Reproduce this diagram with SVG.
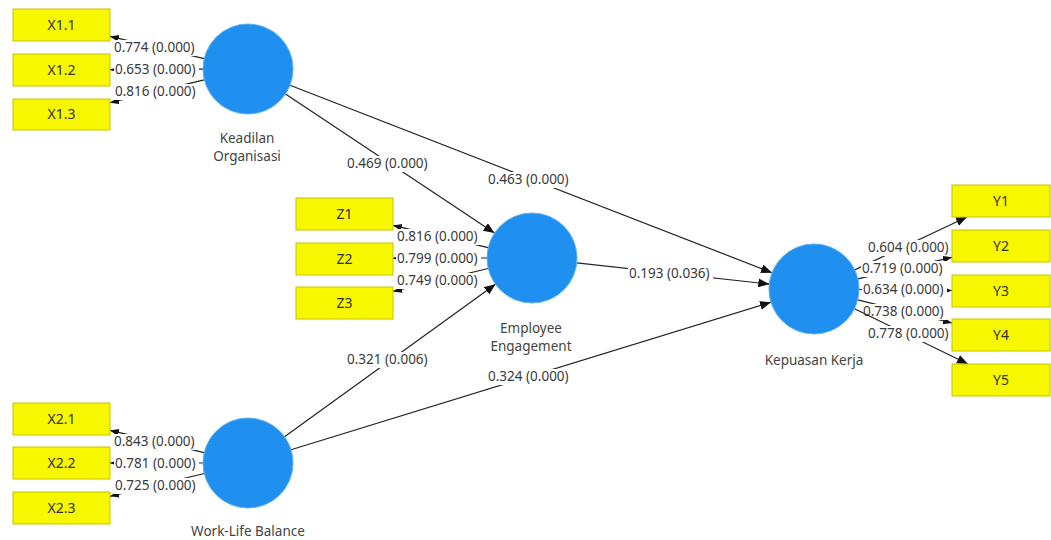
<svg xmlns="http://www.w3.org/2000/svg" width="1051" height="540" viewBox="0 0 1051 540">
<style>
.ind{fill:#f7f700;stroke:#c4c400;stroke-width:1}
.lat{fill:#1f8ff0;stroke:#5cb0f5;stroke-width:1}
.bt{font-family:"Noto Sans","Open Sans",sans-serif;font-size:14px;fill:#333;text-anchor:middle}
.nt{font-family:"Noto Sans","Open Sans",sans-serif;font-size:13.5px;fill:#444;text-anchor:middle}
.lt{font-family:"Noto Sans","Open Sans",sans-serif;font-size:13.5px;fill:#3a3a3a}
.lb{fill:#ffffff}
.c{stroke:#222;stroke-width:1.2;fill:none;marker-end:url(#ah)}
.o{stroke:#222;stroke-width:1.2;fill:none;marker-end:url(#ah2)}
</style>
<defs>
<marker id="ah" markerUnits="userSpaceOnUse" markerWidth="12" markerHeight="10" refX="11" refY="4.5" orient="auto">
<path d="M0,0 L11,4.5 L0,9 z" fill="#111"/>
</marker>
<marker id="ah2" markerUnits="userSpaceOnUse" markerWidth="10" markerHeight="8" refX="9" refY="3.5" orient="auto">
<path d="M0,0 L9,3.5 L0,7 z" fill="#111"/>
</marker>
</defs>
<rect width="1051" height="540" fill="#ffffff"/>

<g id="connectors">
<line class="c" x1="285.5" y1="94" x2="494.5" y2="233"/>
<line class="c" x1="290" y1="85.3" x2="772" y2="272.7"/>
<line class="c" x1="576.7" y1="262.9" x2="769.3" y2="284.1"/>
<line class="c" x1="284.5" y1="436.7" x2="495.5" y2="284.3"/>
<line class="c" x1="291" y1="449.8" x2="771" y2="302.2"/>
<line class="o" x1="204.2" y1="58.6" x2="110" y2="36.4"/>
<line class="o" x1="203" y1="69.2" x2="110" y2="69.7"/>
<line class="o" x1="204.2" y1="79.9" x2="110" y2="102.7"/>
<line class="o" x1="488.2" y1="247.7" x2="393" y2="225.4"/>
<line class="o" x1="487" y1="258" x2="393" y2="258.2"/>
<line class="o" x1="488.2" y1="268.5" x2="393" y2="291.4"/>
<line class="o" x1="204.2" y1="452.7" x2="110" y2="430.4"/>
<line class="o" x1="203" y1="463" x2="110" y2="463"/>
<line class="o" x1="204.2" y1="473.5" x2="110" y2="496.3"/>
<line class="c" x1="854.7" y1="269.9" x2="967" y2="217"/>
<line class="o" x1="857.8" y1="278.9" x2="952" y2="257.3"/>
<line class="o" x1="859" y1="289.5" x2="952" y2="290.5"/>
<line class="o" x1="857.7" y1="299.8" x2="952" y2="323"/>
</g>

<g id="label-0738">
<rect class="lb" x="862" y="304" width="85" height="16"/>
<text class="lt" x="863" y="316">0.738 (0.000)</text>
</g>
<g id="connector-y5">
<line class="c" x1="854.5" y1="308.7" x2="968" y2="364"/>
</g>

<g id="labels">
<rect class="lb" x="113" y="40" width="85" height="16"/><text class="lt" x="114" y="52">0.774 (0.000)</text>
<rect class="lb" x="114" y="62" width="85" height="16"/><text class="lt" x="115" y="74">0.653 (0.000)</text>
<rect class="lb" x="114" y="84" width="85" height="16"/><text class="lt" x="115" y="96">0.816 (0.000)</text>

<rect class="lb" x="396" y="229" width="85" height="16"/><text class="lt" x="397" y="241">0.816 (0.000)</text>
<rect class="lb" x="396" y="251" width="85" height="16"/><text class="lt" x="397" y="263">0.799 (0.000)</text>
<rect class="lb" x="396" y="273" width="85" height="16"/><text class="lt" x="397" y="285">0.749 (0.000)</text>

<rect class="lb" x="113" y="434" width="85" height="16"/><text class="lt" x="114" y="446">0.843 (0.000)</text>
<rect class="lb" x="114" y="456" width="85" height="16"/><text class="lt" x="115" y="468">0.781 (0.000)</text>
<rect class="lb" x="114" y="478" width="85" height="16"/><text class="lt" x="115" y="490">0.725 (0.000)</text>

<rect class="lb" x="867" y="240" width="84" height="16"/><text class="lt" x="868" y="252">0.604 (0.000)</text>
<rect class="lb" x="861" y="261" width="85" height="16"/><text class="lt" x="862" y="273">0.719 (0.000)</text>
<rect class="lb" x="862" y="282" width="85" height="16"/><text class="lt" x="863" y="294">0.634 (0.000)</text>
<rect class="lb" x="867" y="326" width="84" height="16"/><text class="lt" x="868" y="338">0.778 (0.000)</text>

<rect class="lb" x="346" y="156" width="85" height="16"/><text class="lt" x="347" y="168">0.469 (0.000)</text>
<rect class="lb" x="487" y="172" width="85" height="16"/><text class="lt" x="488" y="184">0.463 (0.000)</text>
<rect class="lb" x="628" y="266" width="85" height="16"/><text class="lt" x="629" y="278">0.193 (0.036)</text>
<rect class="lb" x="346" y="352" width="85" height="16"/><text class="lt" x="347" y="364">0.321 (0.006)</text>
<rect class="lb" x="487" y="369" width="85" height="16"/><text class="lt" x="488" y="381">0.324 (0.000)</text>
</g>

<g id="X1.1"><rect class="ind" x="13" y="9" width="97" height="32"/><text class="bt" x="61.5" y="30">X1.1</text></g>
<g id="X1.2"><rect class="ind" x="13" y="54" width="97" height="32"/><text class="bt" x="61.5" y="75">X1.2</text></g>
<g id="X1.3"><rect class="ind" x="13" y="99" width="97" height="31"/><text class="bt" x="61.5" y="119">X1.3</text></g>

<g id="Z1"><rect class="ind" x="296" y="198" width="97" height="32"/><text class="bt" x="344.5" y="219">Z1</text></g>
<g id="Z2"><rect class="ind" x="296" y="243" width="97" height="32"/><text class="bt" x="344.5" y="264">Z2</text></g>
<g id="Z3"><rect class="ind" x="296" y="287" width="97" height="32"/><text class="bt" x="344.5" y="308">Z3</text></g>

<g id="X2.1"><rect class="ind" x="13" y="403" width="97" height="32"/><text class="bt" x="61.5" y="424">X2.1</text></g>
<g id="X2.2"><rect class="ind" x="13" y="447" width="97" height="32"/><text class="bt" x="61.5" y="468">X2.2</text></g>
<g id="X2.3"><rect class="ind" x="13" y="492" width="97" height="32"/><text class="bt" x="61.5" y="513">X2.3</text></g>

<g id="Y1"><rect class="ind" x="952" y="185" width="98" height="32"/><text class="bt" x="1001" y="206">Y1</text></g>
<g id="Y2"><rect class="ind" x="952" y="230" width="98" height="32"/><text class="bt" x="1001" y="251">Y2</text></g>
<g id="Y3"><rect class="ind" x="952" y="275" width="98" height="32"/><text class="bt" x="1001" y="296">Y3</text></g>
<g id="Y4"><rect class="ind" x="952" y="319" width="98" height="32"/><text class="bt" x="1001" y="340">Y4</text></g>
<g id="Y5"><rect class="ind" x="952" y="364" width="98" height="32"/><text class="bt" x="1001" y="385">Y5</text></g>

<g id="keadilan-organisasi">
<circle class="lat" cx="248" cy="69" r="45"/>
<text class="nt" x="247" y="143">Keadilan</text>
<text class="nt" x="247" y="161">Organisasi</text>
</g>
<g id="employee-engagement">
<circle class="lat" cx="532" cy="258" r="45"/>
<text class="nt" x="531" y="333">Employee</text>
<text class="nt" x="531" y="351">Engagement</text>
</g>
<g id="kepuasan-kerja">
<circle class="lat" cx="814" cy="289" r="45"/>
<text class="nt" x="814" y="365">Kepuasan Kerja</text>
</g>
<g id="work-life-balance">
<circle class="lat" cx="248" cy="463" r="45"/>
<text class="nt" x="248" y="536">Work-Life Balance</text>
</g>
</svg>
